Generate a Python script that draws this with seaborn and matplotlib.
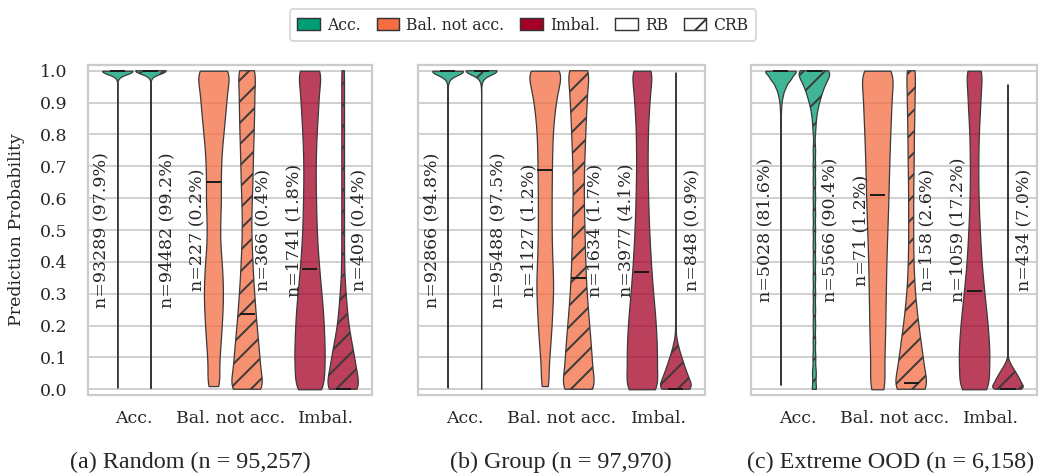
import numpy as np
import pandas as pd
import matplotlib
matplotlib.use("Agg")
import matplotlib.pyplot as plt
from matplotlib.patches import Patch
from matplotlib.colors import to_rgba
import seaborn as sns

# ---------------- data ----------------
categories = ["Acc.", "Bal. not acc.", "Imbal."]
methods = ["RB", "CRB"]
cat_colors = ["#009E73", "#F46D43", "#A50026"]
yticks = [0.0, 0.1, 0.2, 0.3, 0.4, 0.5, 0.6, 0.7, 0.8, 0.9, 1.0]

panel_names = ["(a) Random", "(b) Group", "(c) Extreme OOD"]
panel_totals = [95257, 97970, 6158]

n_random_rb = [93289, 227, 1741]
n_random_crb = [94482, 366, 409]
n_group_rb = [92866, 1127, 3977]
n_group_crb = [95488, 1634, 848]
n_ood_rb = [5028, 71, 1059]
n_ood_crb = [5566, 158, 434]

median_random_rb = [1.0, 0.652, 0.377]
median_random_crb = [1.0, 0.235, 0.0]
median_group_rb = [1.0, 0.687, 0.369]
median_group_crb = [1.0, 0.35, 0.0]
median_ood_rb = [1.0, 0.611, 0.31]
median_ood_crb = [1.0, 0.019, 0.0]

# probability levels used to describe the distributions
grid = [0.0, 0.05, 0.1, 0.15, 0.2, 0.25, 0.3, 0.35, 0.4, 0.45, 0.5,
        0.55, 0.6, 0.65, 0.7, 0.75, 0.8, 0.85, 0.9, 0.95, 1.0]
grid_lift = [0.01, 0.05, 0.1, 0.15, 0.2, 0.25, 0.3, 0.35, 0.4, 0.45, 0.5,
             0.55, 0.6, 0.65, 0.7, 0.75, 0.8, 0.85, 0.9, 0.95, 1.0]

# Random split
random_acc_rb_vals = [0.005, 0.1, 0.2, 0.3, 0.4, 0.5, 0.6, 0.7, 0.8, 0.9, 0.95, 0.97, 0.98, 0.99, 1.0]
random_acc_rb_cnts = [2, 2, 2, 2, 2, 2, 2, 2, 2, 2, 3, 5, 20, 120, 1000]
random_acc_crb_vals = [0.002, 0.1, 0.2, 0.3, 0.4, 0.5, 0.6, 0.7, 0.8, 0.9, 0.95, 0.97, 0.98, 0.99, 1.0]
random_acc_crb_cnts = [2, 2, 2, 2, 2, 2, 2, 2, 2, 2, 3, 6, 25, 130, 1000]
random_bal_rb_cnts = [38, 35, 42, 50, 57, 63, 66, 63, 57, 47, 45, 48, 52, 50, 52, 57, 68, 78, 88, 95, 127]
random_bal_crb_cnts = [127, 95, 88, 79, 68, 60, 52, 45, 40, 35, 32, 33, 36, 40, 42, 45, 48, 51, 53, 53, 67]
random_imb_rb_cnts = [95, 95, 100, 97, 93, 87, 78, 68, 60, 52, 47, 44, 42, 40, 40, 42, 46, 52, 58, 63, 85]
random_imb_crb_cnts = [127, 92, 78, 57, 38, 28, 20, 12, 10, 9, 9, 9, 9, 9, 9, 9, 9, 9, 9, 9, 10]

# Group split
group_acc_rb_vals = [0.005, 0.1, 0.2, 0.3, 0.4, 0.5, 0.6, 0.7, 0.8, 0.9, 0.95, 0.96, 0.97, 0.98, 0.99, 1.0]
group_acc_rb_cnts = [2, 2, 2, 2, 2, 2, 2, 2, 2, 2, 5, 10, 25, 60, 150, 1000]
group_acc_crb_vals = [0.0, 0.1, 0.2, 0.3, 0.4, 0.5, 0.6, 0.7, 0.8, 0.9, 0.95, 0.96, 0.97, 0.98, 0.99, 1.0]
group_acc_crb_cnts = [2, 2, 2, 2, 2, 2, 2, 2, 2, 2, 6, 12, 30, 70, 160, 1000]
group_bal_rb_cnts = [22, 22, 30, 38, 45, 50, 55, 55, 50, 47, 45, 45, 45, 46, 47, 49, 52, 60, 72, 90, 127]
group_bal_crb_cnts = [127, 97, 92, 84, 75, 66, 58, 52, 48, 45, 43, 40, 38, 38, 40, 44, 48, 52, 58, 62, 83]
group_imb_rb_cnts = [113, 97, 100, 97, 92, 84, 74, 66, 59, 53, 48, 44, 41, 39, 37, 38, 39, 43, 50, 56, 77]
group_imb_crb_vals = [0.0, 0.025, 0.05, 0.075, 0.1, 0.125, 0.15, 0.2, 0.3, 0.4, 0.5, 0.6, 0.7, 0.8, 0.9, 0.993]
group_imb_crb_cnts = [133, 90, 73, 55, 38, 22, 10, 3, 3, 3, 3, 3, 3, 3, 3, 3]

# Extreme OOD split
ood_acc_rb_vals = [0.014, 0.1, 0.2, 0.3, 0.4, 0.5, 0.6, 0.7, 0.8, 0.85, 0.875, 0.9, 0.925, 0.95, 0.975, 1.0]
ood_acc_rb_cnts = [4, 4, 4, 4, 4, 4, 4, 4, 4, 15, 30, 60, 140, 300, 600, 1000]
ood_acc_crb_vals = [0.0, 0.05, 0.1, 0.15, 0.2, 0.25, 0.3, 0.35, 0.4, 0.45, 0.5, 0.55, 0.6, 0.65, 0.7,
                    0.75, 0.8, 0.825, 0.85, 0.875, 0.9, 0.925, 0.95, 0.975, 1.0]
ood_acc_crb_cnts = [24, 22, 16, 14, 14, 14, 14, 14, 14, 14, 14, 14, 14, 14, 14,
                    14, 8, 10, 13, 20, 32, 47, 63, 86, 133]
ood_bal_rb_cnts = [57, 46, 48, 51, 54, 55, 57, 59, 61, 64, 68, 71, 75, 77, 80, 83, 87, 91, 96, 98, 127]
ood_bal_crb_cnts = [127, 95, 81, 67, 52, 40, 29, 23, 19, 17, 17, 17, 17, 18, 20, 21, 22, 24, 26, 27, 34]
ood_imb_rb_cnts = [99, 95, 100, 96, 88, 78, 67, 57, 48, 42, 37, 32, 29, 27, 27, 28, 30, 35, 41, 44, 58]
ood_imb_crb_vals = [0.0, 0.01, 0.02, 0.03, 0.04, 0.05, 0.06, 0.07, 0.08, 0.09, 0.1,
                    0.2, 0.3, 0.4, 0.5, 0.6, 0.7, 0.8, 0.9, 0.956]
ood_imb_crb_cnts = [143, 95, 88, 78, 68, 55, 42, 30, 17, 7, 2, 1, 1, 1, 1, 1, 1, 1, 1, 1]

# kernel bandwidths (smoothing) for each violin, [category][method]
bw_random = [[0.010, 0.010], [0.035, 0.035], [0.035, 0.035]]
bw_group = [[0.012, 0.012], [0.035, 0.035], [0.035, 0.020]]
bw_ood = [[0.012, 0.020], [0.040, 0.035], [0.035, 0.010]]

# ---------------- assemble ----------------
def sample(vals, cnts):
    return np.repeat(np.asarray(vals, float), np.asarray(cnts, int))

panels = [
    dict(samples=[[sample(random_acc_rb_vals, random_acc_rb_cnts), sample(random_acc_crb_vals, random_acc_crb_cnts)],
                  [sample(grid_lift, random_bal_rb_cnts), sample(grid, random_bal_crb_cnts)],
                  [sample(grid, random_imb_rb_cnts), sample(grid, random_imb_crb_cnts)]],
         n=[n_random_rb, n_random_crb], med=[median_random_rb, median_random_crb], bw=bw_random),
    dict(samples=[[sample(group_acc_rb_vals, group_acc_rb_cnts), sample(group_acc_crb_vals, group_acc_crb_cnts)],
                  [sample(grid_lift, group_bal_rb_cnts), sample(grid, group_bal_crb_cnts)],
                  [sample(grid, group_imb_rb_cnts), sample(group_imb_crb_vals, group_imb_crb_cnts)]],
         n=[n_group_rb, n_group_crb], med=[median_group_rb, median_group_crb], bw=bw_group),
    dict(samples=[[sample(ood_acc_rb_vals, ood_acc_rb_cnts), sample(ood_acc_crb_vals, ood_acc_crb_cnts)],
                  [sample(grid, ood_bal_rb_cnts), sample(grid, ood_bal_crb_cnts)],
                  [sample(grid, ood_imb_rb_cnts), sample(ood_imb_crb_vals, ood_imb_crb_cnts)]],
         n=[n_ood_rb, n_ood_crb], med=[median_ood_rb, median_ood_crb], bw=bw_ood),
]

# ---------------- style ----------------
sns.set_theme(style="whitegrid", context="notebook")
plt.rcParams["font.family"] = ["DejaVu Serif"]
plt.rcParams["hatch.color"] = "#333333"
plt.rcParams["hatch.linewidth"] = 1.1

DPI = 128
fig = plt.figure(figsize=(1040 / DPI, 473 / DPI), dpi=DPI)
W, H = 1040, 473
ax_px = [(88, 372), (418, 705), (751, 1037)]
top_px, bot_px = 65, 395
FS = 9.8
EDGE = "#3a3a3a"
HATCH = "//"
WIDTH, GAP = 0.7, 0.1
half_off = WIDTH / 4  # dodge offset of each hue level

for p_i, (panel, (l, r)) in enumerate(zip(panels, ax_px)):
    ax = fig.add_axes([l / W, 1 - bot_px / H, (r - l) / W, (bot_px - top_px) / H])
    total = panel_totals[p_i]
    for c_i, cat in enumerate(categories):
        for m_i, meth in enumerate(methods):
            data = panel["samples"][c_i][m_i]
            bw = panel["bw"][c_i][m_i]
            df = pd.DataFrame({"cat": cat, "method": meth, "prob": data})
            n0 = len(ax.collections)
            sns.violinplot(data=df, x="cat", y="prob", hue="method", order=categories,
                           hue_order=methods, palette={m: cat_colors[c_i] for m in methods},
                           saturation=1, dodge=True, width=WIDTH, gap=GAP, cut=0,
                           inner=None, density_norm="width", gridsize=400,
                           bw_method=bw / np.std(data, ddof=1), linewidth=0.7,
                           linecolor=EDGE, legend=False, ax=ax)
            for coll in ax.collections[n0:]:
                coll.set_facecolor(to_rgba(cat_colors[c_i], 0.75))
                coll.set_edgecolor(EDGE)
                if meth == "CRB":
                    coll.set_hatch(HATCH)
            pos = c_i + (-half_off if m_i == 0 else half_off)
            med = panel["med"][m_i][c_i]
            ax.hlines(med, pos - 0.078, pos + 0.078, color="#1a1a1a", lw=1.1, zorder=5)
            n = panel["n"][m_i][c_i]
            tx = c_i + (-0.34 if m_i == 0 else 0.34)
            ax.text(tx, 0.5, f"n={n} ({100 * n / total:.1f}%)", rotation=90,
                    ha="center", va="center", fontsize=FS, color="#262626", zorder=6)
    ax.set_xlim(-0.48, 2.475)
    ax.set_ylim(-0.018, 1.018)
    ax.set_yticks(yticks)
    ax.set_xticks(range(len(categories)))
    ax.set_xticklabels(categories)
    ax.set_xlabel("")
    ax.tick_params(axis="x", length=0, pad=8.4, labelsize=FS)
    ax.tick_params(axis="y", length=0, pad=11.5, labelsize=FS)
    if p_i == 0:
        ax.set_yticklabels([f"{v:.1f}" for v in yticks])
        ax.set_ylabel("Prediction Probability", fontsize=FS)
        ax.yaxis.set_label_coords(-0.222, 0.5)
    else:
        ax.set_yticklabels([])
        ax.set_ylabel("")
    ax.set_axisbelow(True)
    cap_x = [190, 561, 891][p_i]
    fig.text(cap_x / W, 1 - 462 / H, f"{panel_names[p_i]} (n = {total:,})",
             ha="center", va="center", family=["Liberation Serif"], fontsize=13.6)

handles = [Patch(facecolor=c, edgecolor="#333333", lw=0.8) for c in cat_colors]
handles += [Patch(facecolor="white", edgecolor="#333333", lw=0.8),
            Patch(facecolor="white", edgecolor="#333333", lw=0.8, hatch="/")]
labels = categories + methods
fig.legend(handles, labels, loc="center", bbox_to_anchor=(523 / W, 1 - 25 / H), ncol=5,
           fontsize=8.8, frameon=True, edgecolor="#cccccc", handlelength=1.45,
           handleheight=0.85, columnspacing=1.0, handletextpad=0.45, borderpad=0.45)

fig.savefig("out.png", dpi=DPI)
